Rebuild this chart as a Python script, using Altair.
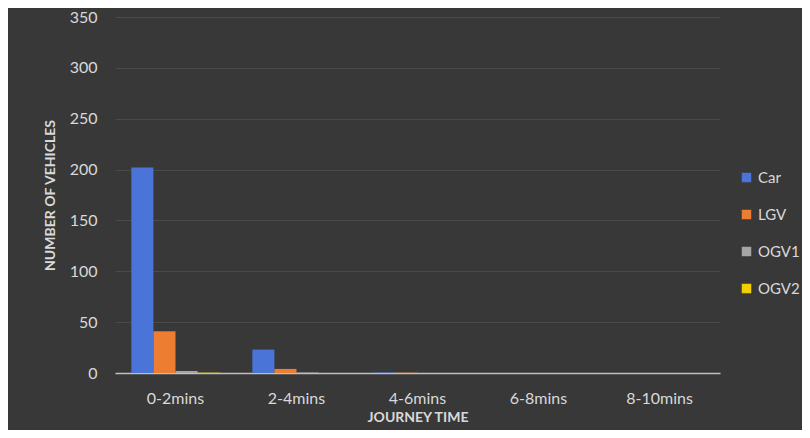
import altair as alt
import pandas as pd

categories = ["0-2mins", "2-4mins", "4-6mins", "6-8mins", "8-10mins"]
series = ["Car", "LGV", "OGV1", "OGV2"]
car = [202, 23, 0.5, 0, 0]
lgv = [41, 4, 0.3, 0, 0]
ogv1 = [2, 0.5, 0, 0, 0]
ogv2 = [0.3, 0, 0, 0, 0]
colors = ["#4a74d8", "#ed7d31", "#a5a5a5", "#f2d000"]

rows = []
for name, vals in zip(series, [car, lgv, ogv1, ogv2]):
    for c, v in zip(categories, vals):
        rows.append({"time": c, "type": name, "value": v})
df = pd.DataFrame(rows)

font = "Lato"
chart = alt.Chart(df).mark_bar().encode(
    x=alt.X("time:N", sort=categories, title="JOURNEY TIME",
            scale=alt.Scale(paddingInner=0.27, paddingOuter=0.135),
            axis=alt.Axis(labelAngle=0, labelColor="#d9d9d9", labelFontSize=16,
                          labelFont=font, labelPadding=17, ticks=False,
                          domainColor="#bfbfbf", domainWidth=1.5,
                          titleColor="#d9d9d9", titleFont=font, titleFontSize=14,
                          titleFontWeight="bold", titlePadding=4)),
    xOffset=alt.XOffset("type:N", sort=series),
    y=alt.Y("value:Q", title="NUMBER OF VEHICLES",
            scale=alt.Scale(domain=[0, 350], nice=False),
            axis=alt.Axis(values=[0, 50, 100, 150, 200, 250, 300, 350],
                          labelColor="#d9d9d9", labelFontSize=16, labelFont=font,
                          labelPadding=18, ticks=False, domain=False,
                          gridColor="#4a4a4a", gridWidth=1,
                          titleColor="#d9d9d9", titleFont=font, titleFontSize=14,
                          titleFontWeight="bold", titlePadding=12)),
    color=alt.Color("type:N", sort=series, title=None,
                    scale=alt.Scale(domain=series, range=colors),
                    legend=alt.Legend(orient="none", legendX=624, legendY=153,
                                      symbolType="square", symbolSize=90,
                                      symbolStrokeWidth=0,
                                      labelColor="#d9d9d9", labelFontSize=15,
                                      labelFont=font, rowPadding=21,
                                      labelOffset=4)),
).properties(
    width=605, height=356,
    autosize=alt.AutoSizeParams(type="none"),
    padding={"left": 107, "top": 9, "right": 82, "bottom": 57},
    background="#383838",
).configure_view(stroke=None)

chart.save("out.html", embed_options={"renderer": "svg", "actions": False})
